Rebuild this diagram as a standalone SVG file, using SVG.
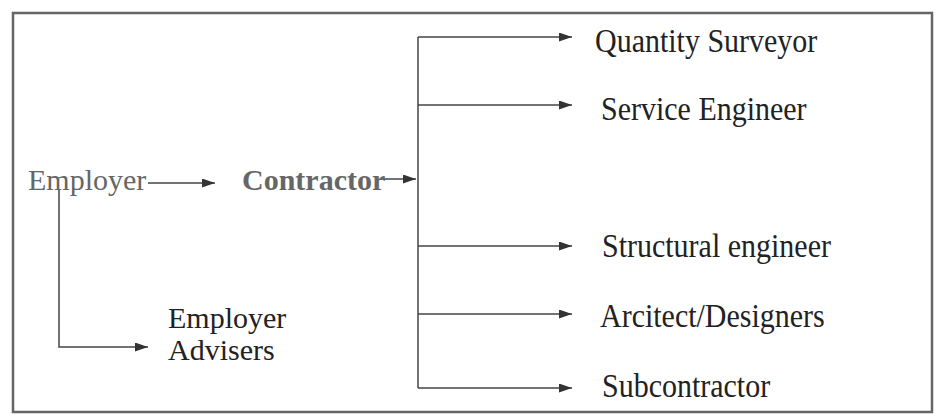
<svg xmlns="http://www.w3.org/2000/svg" width="935" height="414" viewBox="0 0 935 414">
<defs>
<marker id="ah" markerWidth="13" markerHeight="9" refX="13" refY="4.5" orient="auto" markerUnits="userSpaceOnUse">
<path d="M0,0 L13,4.5 L0,9 Z" fill="#333"/>
</marker>
</defs>
<style>
.t{font-family:"Liberation Serif","Times New Roman",serif;font-size:30px;fill:#222}
.g{fill:#666}
.c{stroke:#444;stroke-width:1.5;fill:none}
.a{marker-end:url(#ah)}
.f{stroke:#666;stroke-width:2.5;fill:none}
</style>
<rect width="935" height="414" fill="#fff"/>
<rect class="f" x="13" y="13" width="919" height="399"/>
<g id="connectors">
<path class="c a" d="M148,183 H215"/>
<path class="c a" d="M380,179 H416"/>
<path class="c" d="M418,37 V388"/>
<path class="c a" d="M418,37 H572"/>
<path class="c a" d="M418,105 H572"/>
<path class="c a" d="M418,246 H572"/>
<path class="c a" d="M418,314 H572"/>
<path class="c a" d="M418,388 H572"/>
<path class="c a" d="M59,190 V347 H148"/>
</g>
<g id="employer"><text class="t g" x="28" y="190" font-size="28">Employer</text></g>
<g id="contractor"><text class="t g" x="242" y="190" font-size="28" font-weight="bold">Contractor</text></g>
<g id="qs"><text class="t" transform="translate(595,52) scale(1,1.1)">Quantity Surveyor</text></g>
<g id="se"><text class="t" transform="translate(601,120) scale(1,1.1)">Service Engineer</text></g>
<g id="st"><text class="t" transform="translate(602,257) scale(1,1.1)">Structural engineer</text></g>
<g id="ar"><text class="t" transform="translate(600,327) scale(1,1.1)">Arcitect/Designers</text></g>
<g id="sub"><text class="t" transform="translate(602,397) scale(1,1.1)">Subcontractor</text></g>
<g id="adv"><text class="t" x="168" y="328" font-size="29">Employer</text><text class="t" x="168" y="360" font-size="29">Advisers</text></g>
</svg>
